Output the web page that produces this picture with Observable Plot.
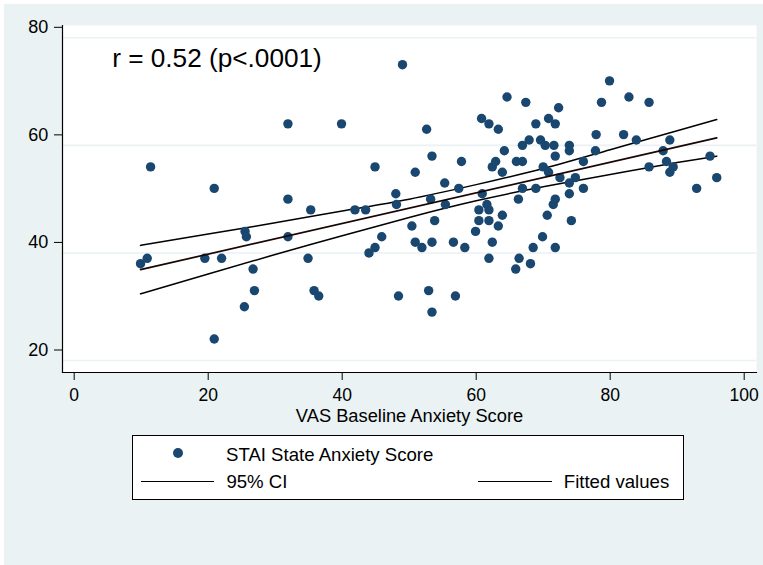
<!DOCTYPE html>
<html>
<head>
<meta charset="utf-8">
<script src="https://cdn.jsdelivr.net/npm/d3@7"></script>
<script src="https://cdn.jsdelivr.net/npm/@observablehq/plot@0.6"></script>
<style>
  html, body { margin: 0; padding: 0; background: #ffffff; }
  #wrap { position: relative; width: 763px; height: 565px; overflow: hidden; font-family: "Liberation Sans", Arial, sans-serif; }
  #bg { position: absolute; left: 4px; top: 4px; width: 759px; height: 561px; background: #eaf2f3; }
  #chart { position: absolute; left: 0; top: 0; }
  #legend { position: absolute; left: 132px; top: 435px; width: 550px; height: 63px; background: #ffffff; border: 1px solid #000; box-sizing: content-box; }
  .lt { position: absolute; font-size: 18.6px; line-height: 18.6px; color: #000; white-space: nowrap; }
  .ldot { position: absolute; width: 10px; height: 10px; border-radius: 50%; background: #1a476f; }
  .lline { position: absolute; height: 0; border-top: 1.6px solid #000; }
</style>
</head>
<body>
<div id="wrap">
  <div id="bg"></div>
  <div id="chart"></div>
  <div id="legend"></div>
</div>
<script>
// ---- Data ----
const vas = [9.9, 10.9, 11.4, 19.5, 20.9, 20.9, 22.0, 25.5, 25.7, 25.4, 26.7, 26.9, 31.9, 31.9, 31.9, 34.9, 35.3, 35.8, 36.5, 39.9,
  41.9, 43.5, 44.0, 44.9, 44.9, 45.9, 48.0, 48.1, 48.4, 49.0, 50.4, 50.9, 50.9, 51.9, 52.6, 52.9, 53.2, 53.4, 53.4, 53.4,
  53.8, 55.3, 55.4, 56.6, 56.9, 57.4, 57.8, 58.3, 59.9, 60.4, 60.4, 60.8, 60.9, 61.6, 61.9, 61.9, 61.9, 61.9, 62.4, 62.4,
  62.9, 63.3, 63.3, 63.9, 63.9, 64.2, 64.6, 65.9, 66.0, 66.3, 66.4, 66.9, 66.9, 66.9, 67.4, 67.9, 68.1, 68.5, 68.9, 68.9,
  69.6, 69.9, 70.0, 70.3, 70.6, 70.8, 70.8, 71.5, 71.6, 71.8, 71.8, 71.8, 71.8, 72.3, 72.5, 73.9, 73.9, 73.9, 73.9, 74.2,
  74.8, 76.0, 76.0, 77.8, 77.9, 78.7, 79.9, 82.0, 82.8, 83.9, 85.8, 85.8, 87.9, 88.4, 88.9, 88.9, 89.4, 92.9, 94.9, 95.9];
const stai = [38, 39, 56, 39, 52, 24, 39, 44, 43, 30, 37, 33, 64, 50, 43, 39, 48, 33, 32, 64,
  48, 48, 40, 41, 56, 43, 51, 49, 32, 75, 45, 55, 42, 41, 63, 33, 50, 58, 42, 29,
  46, 53, 49, 42, 32, 52, 57, 41, 44, 48, 46, 65, 51, 49, 48, 46, 64, 39, 56, 42,
  57, 63, 45, 55, 47, 59, 69, 37, 57, 50, 39, 57, 60, 52, 68, 61, 38, 41, 64, 52,
  61, 43, 56, 60, 47, 65, 55, 49, 60, 64, 58, 50, 41, 67, 54, 60, 59, 53, 51, 46,
  54, 57, 52, 59, 62, 68, 72, 62, 69, 61, 68, 56, 59, 57, 61, 55, 56, 52, 58, 54];

// Fitted values and 95% CI
const fitX = [9.9, 95.9];
const fitY = [36.9, 61.4];
const ciX = [9.9, 20, 30, 40, 50, 60, 70, 80, 90, 95.9];
const ciLow = [32.4, 36.1, 39.7, 43.2, 46.6, 49.7, 52.3, 54.6, 56.8, 58.0];
const ciHigh = [41.4, 43.5, 45.6, 47.8, 50.0, 52.7, 55.7, 59.2, 62.7, 64.8];

const xTicks = [0, 20, 40, 60, 80, 100];
const yTicks = [20, 40, 60, 80];
const annotation = "r = 0.52 (p<.0001)";
const xTitle = "VAS Baseline Anxiety Score";
const legendLabels = ["STAI State Anxiety Score", "95% CI", "Fitted values"];

const points = vas.map((v, i) => ({x: v, y: stai[i]}));
const fit = fitX.map((v, i) => ({x: v, y: fitY[i]}));
const lo = ciX.map((v, i) => ({x: v, y: ciLow[i]}));
const hi = ciX.map((v, i) => ({x: v, y: ciHigh[i]}));

const font = "Liberation Sans, Arial, sans-serif";

const chart = Plot.plot({
  width: 763,
  height: 565,
  marginLeft: 62,
  marginTop: 25,
  marginRight: 7,
  marginBottom: 193,
  style: {background: "transparent", fontFamily: font, color: "#000", overflow: "visible"},
  x: {domain: [0, 100], insetLeft: 11.7, insetRight: 12.3},
  y: {domain: [20, 80], insetTop: 12.3, insetBottom: 12},
  marks: [
    Plot.frame({fill: "white", stroke: null}),
    Plot.gridY(yTicks, {stroke: "#eaf2f3", strokeOpacity: 1, strokeWidth: 1.6}),
    Plot.frame({anchor: "left", stroke: "#000", strokeWidth: 1.2}),
    Plot.frame({anchor: "bottom", stroke: "#000", strokeWidth: 1.2}),
    Plot.axisY(yTicks, {tickSize: 8, tickPadding: 6.3, fontSize: 18, dy: -10.5, stroke: "#000", fill: "#000", label: null}),
    Plot.axisX(xTicks, {tickSize: 8, tickPadding: 8.5, fontSize: 17.5, stroke: "#000", fill: "#000", label: null}),
    Plot.text([xTitle], {frameAnchor: "bottom", dy: 44, fontSize: 18.3, lineAnchor: "middle", fill: "#000"}),
    Plot.text([annotation], {frameAnchor: "top-left", dx: 49.7, dy: 22.7, textAnchor: "start", lineAnchor: "top", fontSize: 26.2, fill: "#000"}),
    Plot.line(lo, {x: "x", y: "y", stroke: "#000", strokeWidth: 1.5, curve: "natural"}),
    Plot.line(hi, {x: "x", y: "y", stroke: "#000", strokeWidth: 1.5, curve: "natural"}),
    Plot.dot(points, {x: "x", y: "y", r: 4.7, fill: "#1a476f", stroke: "none"}),
    Plot.line(fit, {x: "x", y: "y", stroke: "#1a0505", strokeWidth: 1.7})
  ]
});
document.getElementById("chart").appendChild(chart);

// Legend (box positioned in page coordinates, contents relative to box)
const lg = document.getElementById("legend");
const L = 133, T = 436; // inner origin of the legend box
function add(cls, left, top, extra) {
  const el = document.createElement(cls === "lt" ? "span" : "div");
  el.className = cls;
  el.style.left = (left - L) + "px";
  el.style.top = (top - T) + "px";
  if (extra) Object.assign(el.style, extra);
  lg.appendChild(el);
  return el;
}
add("ldot", 172.7, 448.3);
add("lt", 226, 461.7 - 15.75).textContent = legendLabels[0];
add("lline", 140.7, 481, {width: "73.6px"});
add("lt", 226.4, 488.7 - 15.75).textContent = legendLabels[1];
add("lline", 478, 481, {width: "73.6px"});
add("lt", 563.8, 488.7 - 15.75).textContent = legendLabels[2];
</script>
</body>
</html>
